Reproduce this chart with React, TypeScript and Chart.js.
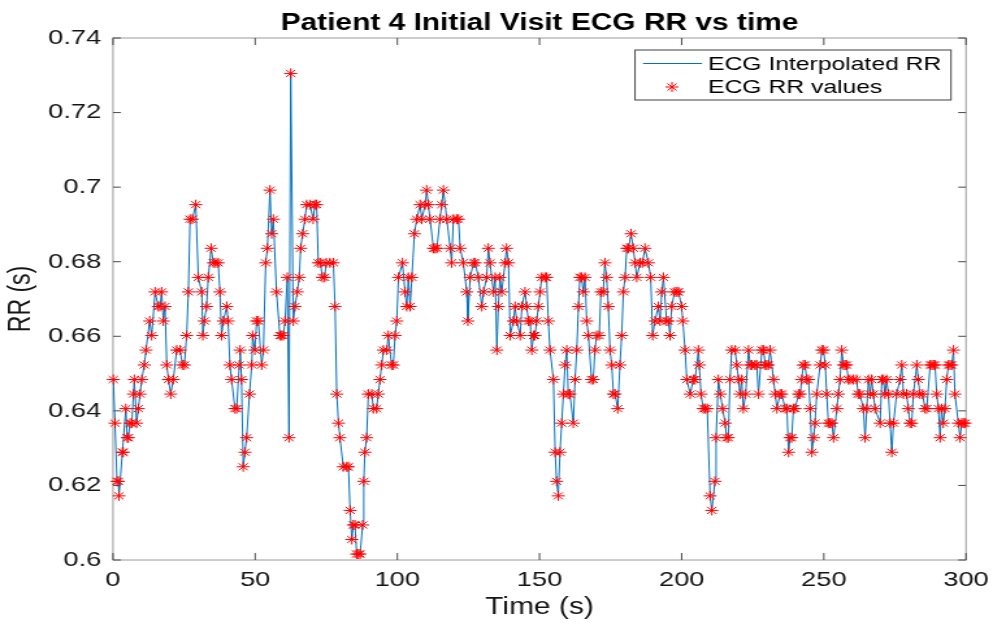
import React, { useEffect, useRef } from "react";
import { Chart, registerables } from "chart.js";

Chart.register(...registerables);

// ---------------- data ----------------
const chartTitle = "Patient 4 Initial Visit ECG RR vs time";
const xTitle = "Time (s)";
const yTitle = "RR (s)";
const lineLabel = "ECG Interpolated RR";
const pointLabel = "ECG RR values";

const xTicks = [0, 50, 100, 150, 200, 250, 300];
const yTicks = [0.6, 0.62, 0.64, 0.66, 0.68, 0.7, 0.72, 0.74];

const timesA = [0.1, 0.7, 1.4, 1.9, 2.1, 3.3, 3.6, 4.5, 5.0, 5.4, 6.0, 6.6, 7.2, 7.5, 8.3, 8.9, 9.5, 10.1, 11.0, 11.6, 12.9, 13.6, 14.8, 15.9, 16.5, 17.1, 17.7, 18.3, 18.9, 19.5, 20.3, 21.2, 22.4, 23.6, 24.4, 25.1, 25.9, 26.5, 27.1, 27.9, 29.1, 30.0, 31.2, 31.6, 32.1, 32.9, 33.5, 34.5];
const rrA = [0.6484, 0.6367, 0.6211, 0.6211, 0.6172, 0.6289, 0.6289, 0.6406, 0.6328, 0.6328, 0.6367, 0.6367, 0.6445, 0.6484, 0.6367, 0.6406, 0.6445, 0.6484, 0.6523, 0.6563, 0.6641, 0.6602, 0.6719, 0.6680, 0.6680, 0.6719, 0.6641, 0.6680, 0.6523, 0.6484, 0.6445, 0.6484, 0.6563, 0.6563, 0.6523, 0.6523, 0.6602, 0.6719, 0.6914, 0.6914, 0.6953, 0.6758, 0.6719, 0.6602, 0.6641, 0.6680, 0.6758, 0.6836];

const timesB = [35.3, 36.1, 37.0, 37.6, 38.2, 38.8, 40.0, 40.5, 41.1, 41.7, 42.9, 43.5, 44.4, 44.7, 45.2, 45.8, 46.4, 47.0, 48.0, 48.8, 49.1, 49.9, 50.5, 51.1, 52.3, 52.9, 53.7, 54.3, 55.2, 55.8, 56.4, 57.5, 58.7, 59.3, 59.9, 60.5, 61.3, 61.9, 62.5, 63.4, 64.0, 64.8, 65.5, 66.0, 66.7, 67.5, 68.1, 69.3, 70.4, 71.0];
const rrB = [0.6797, 0.6797, 0.6797, 0.6719, 0.6602, 0.6641, 0.6680, 0.6641, 0.6523, 0.6484, 0.6406, 0.6406, 0.6523, 0.6563, 0.6484, 0.6250, 0.6289, 0.6328, 0.6445, 0.6523, 0.6602, 0.6563, 0.6641, 0.6641, 0.6523, 0.6563, 0.6797, 0.6836, 0.6992, 0.6875, 0.6914, 0.6719, 0.6602, 0.6602, 0.6602, 0.6641, 0.6758, 0.6328, 0.7305, 0.6641, 0.6680, 0.6719, 0.6758, 0.6836, 0.6875, 0.6914, 0.6953, 0.6953, 0.6914, 0.6953];

const timesC = [71.6, 72.2, 73.0, 73.6, 74.4, 75.0, 76.3, 77.5, 78.1, 78.7, 79.3, 79.8, 81.0, 82.2, 82.8, 83.4, 84.0, 84.5, 85.1, 85.7, 86.3, 86.9, 87.8, 88.2, 88.6, 89.2, 89.8, 91.0, 91.6, 92.7, 93.3, 93.9, 94.5, 95.1, 96.3, 96.8, 98.0, 98.6, 99.2, 99.8, 100.4, 101.8, 102.7, 103.3, 103.9, 104.5, 105.1, 106.0, 106.8];
const rrC = [0.6953, 0.6797, 0.6797, 0.6758, 0.6758, 0.6797, 0.6797, 0.6797, 0.6680, 0.6445, 0.6367, 0.6328, 0.6250, 0.6250, 0.6250, 0.6133, 0.6055, 0.6094, 0.6094, 0.6016, 0.6016, 0.6016, 0.6094, 0.6211, 0.6289, 0.6328, 0.6445, 0.6445, 0.6406, 0.6406, 0.6445, 0.6484, 0.6523, 0.6563, 0.6563, 0.6602, 0.6523, 0.6523, 0.6602, 0.6641, 0.6758, 0.6797, 0.6719, 0.6680, 0.6758, 0.6680, 0.6758, 0.6875, 0.6914];

const timesD = [108.0, 108.6, 109.8, 110.3, 110.9, 111.5, 112.7, 113.3, 113.9, 115.0, 115.6, 116.2, 117.4, 118.6, 119.1, 119.7, 120.9, 121.5, 122.1, 123.2, 124.4, 124.8, 125.6, 126.8, 127.4, 128.5, 129.7, 130.3, 131.4, 132.0, 132.6, 133.8, 134.4, 135.0, 135.5, 136.1, 136.7, 137.9, 138.4, 139.1, 139.7, 140.8, 141.4, 142.0, 143.2, 143.8, 144.9, 145.5, 146.1, 146.7, 147.3, 147.9];
const rrD = [0.6953, 0.6914, 0.6953, 0.6992, 0.6953, 0.6914, 0.6836, 0.6836, 0.6836, 0.6914, 0.6953, 0.6992, 0.6914, 0.6836, 0.6797, 0.6914, 0.6914, 0.6914, 0.6836, 0.6797, 0.6719, 0.6641, 0.6758, 0.6797, 0.6797, 0.6758, 0.6680, 0.6719, 0.6758, 0.6836, 0.6797, 0.6719, 0.6758, 0.6563, 0.6680, 0.6758, 0.6719, 0.6797, 0.6836, 0.6797, 0.6602, 0.6641, 0.6680, 0.6641, 0.6602, 0.6680, 0.6719, 0.6680, 0.6641, 0.6641, 0.6563, 0.6602];

const timesE = [148.4, 149.0, 149.6, 150.2, 150.8, 151.9, 152.5, 153.1, 153.7, 154.9, 155.5, 156.0, 156.6, 157.2, 157.8, 158.4, 159.0, 159.6, 160.1, 160.7, 161.9, 162.5, 163.1, 163.7, 164.2, 164.8, 165.4, 166.0, 166.6, 167.2, 168.3, 168.9, 169.5, 170.1, 171.0, 171.6, 172.4, 173.0, 173.6, 174.2, 174.8, 175.4, 176.0, 176.6, 177.5, 178.3, 178.9, 179.5, 180.1, 180.7, 181.3, 182.2];
const rrE = [0.6602, 0.6641, 0.6680, 0.6719, 0.6758, 0.6758, 0.6758, 0.6641, 0.6563, 0.6484, 0.6289, 0.6211, 0.6172, 0.6289, 0.6367, 0.6445, 0.6523, 0.6563, 0.6445, 0.6445, 0.6367, 0.6484, 0.6563, 0.6680, 0.6758, 0.6758, 0.6719, 0.6758, 0.6641, 0.6602, 0.6484, 0.6484, 0.6563, 0.6602, 0.6602, 0.6719, 0.6719, 0.6797, 0.6758, 0.6680, 0.6563, 0.6523, 0.6445, 0.6445, 0.6406, 0.6523, 0.6602, 0.6719, 0.6758, 0.6836, 0.6836, 0.6875];

const timesF = [183.0, 183.6, 184.2, 185.4, 186.2, 187.1, 188.3, 189.1, 189.8, 190.6, 191.8, 192.4, 193.0, 193.6, 194.7, 195.3, 195.9, 196.5, 197.5, 198.3, 198.9, 200.0, 200.4, 201.2, 201.8, 203.0, 204.1, 204.7, 205.9, 206.2, 206.8, 207.6, 208.2, 209.0, 210.0, 210.6, 211.7, 212.1, 212.9, 213.6, 214.4, 215.3, 215.8, 216.4, 217.0, 217.6, 218.8];
const rrF = [0.6836, 0.6797, 0.6758, 0.6797, 0.6797, 0.6836, 0.6797, 0.6758, 0.6602, 0.6641, 0.6680, 0.6641, 0.6719, 0.6758, 0.6641, 0.6641, 0.6602, 0.6680, 0.6719, 0.6719, 0.6719, 0.6680, 0.6641, 0.6563, 0.6484, 0.6445, 0.6484, 0.6484, 0.6563, 0.6523, 0.6445, 0.6406, 0.6406, 0.6406, 0.6172, 0.6133, 0.6211, 0.6328, 0.6484, 0.6445, 0.6406, 0.6367, 0.6328, 0.6328, 0.6484, 0.6563, 0.6563];

const timesG = [219.4, 220.0, 220.5, 221.1, 221.7, 222.5, 223.5, 224.1, 224.7, 225.8, 226.4, 227.0, 228.2, 228.8, 229.4, 229.9, 230.5, 231.1, 232.3, 232.9, 233.5, 234.6, 235.2, 236.4, 237.0, 237.6, 238.1, 238.7, 239.3, 239.9, 241.1, 241.7, 242.2, 242.8, 243.4, 244.0, 244.6, 245.2, 245.8, 246.4, 246.9, 247.5, 248.7, 249.3, 249.9, 250.5, 251.0, 251.6, 252.2, 252.8, 253.4, 254.6, 255.1, 255.7];
const rrG = [0.6523, 0.6484, 0.6445, 0.6484, 0.6406, 0.6445, 0.6563, 0.6523, 0.6523, 0.6523, 0.6523, 0.6445, 0.6563, 0.6563, 0.6523, 0.6523, 0.6523, 0.6563, 0.6484, 0.6445, 0.6406, 0.6445, 0.6445, 0.6406, 0.6406, 0.6289, 0.6328, 0.6328, 0.6406, 0.6406, 0.6445, 0.6445, 0.6484, 0.6523, 0.6523, 0.6484, 0.6484, 0.6406, 0.6289, 0.6328, 0.6367, 0.6445, 0.6523, 0.6563, 0.6563, 0.6523, 0.6445, 0.6367, 0.6367, 0.6367, 0.6328, 0.6406, 0.6445, 0.6484];

const timesH = [256.3, 256.9, 257.5, 258.0, 258.6, 259.2, 260.4, 261.5, 262.1, 262.7, 263.9, 264.5, 265.1, 265.7, 266.3, 266.8, 267.4, 268.0, 269.8, 270.4, 271.0, 271.5, 272.1, 272.7, 273.3, 273.9, 274.5, 275.6, 276.8, 277.4, 278.0, 279.1, 279.7, 280.3, 280.9, 281.5, 282.7, 283.2, 283.8, 284.7, 285.6, 286.2, 287.4, 288.0, 288.6, 289.1, 289.7, 290.3, 290.9, 291.4, 292.0, 292.6, 293.2, 293.8, 294.4, 295.0, 295.6, 296.1, 297.3, 297.9, 298.5, 299.1, 299.7];
const rrH = [0.6563, 0.6523, 0.6523, 0.6523, 0.6484, 0.6484, 0.6484, 0.6484, 0.6445, 0.6445, 0.6406, 0.6328, 0.6406, 0.6484, 0.6445, 0.6484, 0.6445, 0.6406, 0.6367, 0.6484, 0.6484, 0.6445, 0.6484, 0.6445, 0.6367, 0.6289, 0.6367, 0.6445, 0.6484, 0.6523, 0.6445, 0.6445, 0.6406, 0.6367, 0.6367, 0.6445, 0.6523, 0.6484, 0.6445, 0.6445, 0.6406, 0.6406, 0.6523, 0.6523, 0.6523, 0.6523, 0.6445, 0.6406, 0.6328, 0.6406, 0.6367, 0.6406, 0.6484, 0.6523, 0.6523, 0.6523, 0.6563, 0.6445, 0.6367, 0.6328, 0.6367, 0.6367, 0.6367];

const beatTimes = [...timesA, ...timesB, ...timesC, ...timesD, ...timesE, ...timesF, ...timesG, ...timesH];
const rrValues = [...rrA, ...rrB, ...rrC, ...rrD, ...rrE, ...rrF, ...rrG, ...rrH];

// ---------------- layout / style ----------------
const OUT_W = 993;
const OUT_H = 630;
const CANVAS_W = 764; // drawn narrower, then stretched to 993 like the reference figure
const SX = OUT_W / CANVAS_W;
const FONT = '"Liberation Sans", Arial, Helvetica, sans-serif';
const LINE_COLOR = "#0072BD";
const POINT_COLOR = "#ff0000";
const TEXT_COLOR = "#151515";

const framePlugin = {
  id: "frame",
  beforeDatasetsDraw(chart: any) {
    const { ctx, chartArea } = chart;
    const { left, right, top, bottom } = chartArea;
    const xs = chart.scales.x;
    const ys = chart.scales.y;
    ctx.save();
    ctx.strokeStyle = "#9a9a9a";
    ctx.lineWidth = 1;
    ctx.strokeRect(left, top, right - left, bottom - top);
    ctx.strokeStyle = "#4a4a4a";
    ctx.beginPath();
    xTicks.forEach((v) => {
      const px = xs.getPixelForValue(v);
      ctx.moveTo(px, bottom);
      ctx.lineTo(px, bottom - 7);
      ctx.moveTo(px, top);
      ctx.lineTo(px, top + 7);
    });
    yTicks.forEach((v) => {
      const py = ys.getPixelForValue(v);
      ctx.moveTo(left, py);
      ctx.lineTo(left + 6, py);
      ctx.moveTo(right, py);
      ctx.lineTo(right - 6, py);
    });
    ctx.stroke();
    ctx.restore();
  },
};

const titlePlugin = {
  id: "figTitle",
  afterDraw(chart: any) {
    const { ctx, chartArea } = chart;
    ctx.save();
    ctx.font = `bold 23px ${FONT}`;
    ctx.fillStyle = "#000000";
    ctx.textAlign = "center";
    ctx.textBaseline = "alphabetic";
    ctx.fillText(chartTitle, (chartArea.left + chartArea.right) / 2, 30);
    ctx.restore();
  },
};

const legendPlugin = {
  id: "figLegend",
  afterDatasetsDraw(chart: any) {
    const { ctx } = chart;
    const bx = 635 / SX;
    const bw = (951 - 635) / SX;
    const by = 50;
    const bh = 50;
    ctx.save();
    ctx.fillStyle = "#ffffff";
    ctx.fillRect(bx, by, bw, bh);
    ctx.strokeStyle = "#404040";
    ctx.lineWidth = 1;
    ctx.strokeRect(bx, by, bw, bh);
    // line sample
    ctx.strokeStyle = LINE_COLOR;
    ctx.beginPath();
    ctx.moveTo(643 / SX, 63.5);
    ctx.lineTo(702 / SX, 63.5);
    ctx.stroke();
    // asterisk sample
    const cx = 672 / SX;
    const cy = 87;
    const r = 5;
    const d = r * Math.SQRT1_2;
    ctx.strokeStyle = POINT_COLOR;
    ctx.beginPath();
    ctx.moveTo(cx - r, cy);
    ctx.lineTo(cx + r, cy);
    ctx.moveTo(cx, cy - r);
    ctx.lineTo(cx, cy + r);
    ctx.moveTo(cx - d, cy - d);
    ctx.lineTo(cx + d, cy + d);
    ctx.moveTo(cx - d, cy + d);
    ctx.lineTo(cx + d, cy - d);
    ctx.stroke();
    // texts
    ctx.fillStyle = "#000000";
    ctx.font = `19px ${FONT}`;
    ctx.textAlign = "left";
    ctx.textBaseline = "alphabetic";
    ctx.fillText(lineLabel, 708 / SX, 70);
    ctx.fillText(pointLabel, 708 / SX, 93);
    ctx.restore();
  },
};

export default function App() {
  const canvasRef = useRef<HTMLCanvasElement | null>(null);

  useEffect(() => {
    document.body.style.margin = "0";
    const canvas = canvasRef.current;
    if (!canvas) return;

    const points = beatTimes.map((t, i) => ({ x: t, y: rrValues[i] }));

    const chart = new Chart(canvas, {
      type: "scatter",
      data: {
        datasets: [
          {
            label: pointLabel,
            data: points,
            showLine: false,
            pointStyle: "star",
            pointRadius: 5,
            pointBorderWidth: 1,
            borderColor: POINT_COLOR,
            backgroundColor: POINT_COLOR,
            clip: false,
            order: 0,
          } as any,
          {
            label: lineLabel,
            data: points,
            showLine: true,
            pointRadius: 0,
            borderColor: LINE_COLOR,
            borderWidth: 1,
            tension: 0,
            order: 1,
          } as any,
        ],
      },
      options: {
        responsive: false,
        animation: false,
        events: [],
        devicePixelRatio: 1,
        layout: {
          padding: { left: 0, top: 38, right: CANVAS_W - 966 / SX, bottom: 0 },
        },
        plugins: {
          legend: { display: false },
          tooltip: { enabled: false },
          title: { display: false },
        },
        scales: {
          x: {
            type: "linear",
            min: 0,
            max: 300,
            afterBuildTicks: (s: any) => {
              s.ticks = xTicks.map((v) => ({ value: v }));
            },
            afterFit: (s: any) => {
              s.height = OUT_H - 560;
              s.paddingLeft = 0;
              s.paddingRight = 0;
            },
            grid: { display: false, drawTicks: false },
            border: { display: false },
            ticks: {
              autoSkip: false,
              maxRotation: 0,
              padding: 8,
              color: TEXT_COLOR,
              font: { family: FONT, size: 21 },
              callback: (v: any) => String(v),
            },
            title: {
              display: true,
              text: xTitle,
              color: TEXT_COLOR,
              font: { family: FONT, size: 23 },
              padding: { top: 0, bottom: 9 },
            },
          },
          y: {
            type: "linear",
            min: 0.6,
            max: 0.74,
            afterBuildTicks: (s: any) => {
              s.ticks = yTicks.map((v) => ({ value: v }));
            },
            afterFit: (s: any) => {
              s.width = 113 / SX;
              s.paddingTop = 0;
              s.paddingBottom = 0;
            },
            grid: { display: false, drawTicks: false },
            border: { display: false },
            ticks: {
              autoSkip: false,
              padding: 9,
              color: TEXT_COLOR,
              font: { family: FONT, size: 21 },
              callback: (v: any) => String(v),
            },
            title: {
              display: true,
              text: yTitle,
              color: TEXT_COLOR,
              font: { family: FONT, size: 23 },
              padding: { top: 3, bottom: 0 },
            },
          },
        },
      },
      plugins: [framePlugin, legendPlugin, titlePlugin],
    });

    return () => {
      chart.destroy();
    };
  }, []);

  return (
    <div style={{ width: OUT_W, height: OUT_H, background: "#ffffff" }}>
      <canvas
        ref={canvasRef}
        width={CANVAS_W}
        height={OUT_H}
        style={{ width: `${OUT_W}px`, height: `${OUT_H}px`, display: "block" }}
      />
    </div>
  );
}
